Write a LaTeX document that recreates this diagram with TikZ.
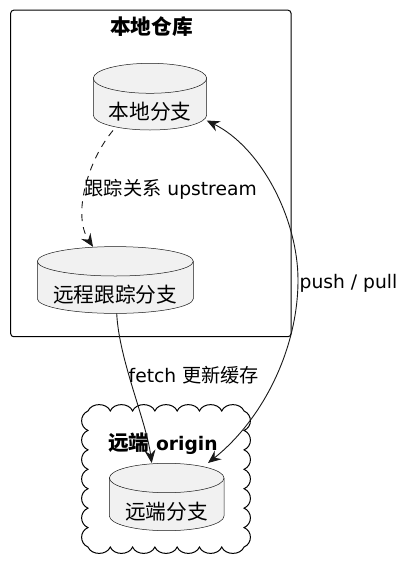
\documentclass[tikz,border=0pt]{standalone}
\usepackage{fontspec}
\setmainfont{DejaVu Sans}
\newfontfamily\cjk{Noto Sans CJK SC}
\usetikzlibrary{arrows.meta,calc}
\definecolor{dbfill}{HTML}{F1F1F1}
\definecolor{ink}{HTML}{181818}
\newcommand\dbcyl[6]{% cx, ytop, ybot, rx, ry, unused
  \path[fill=dbfill] (#1-#4,#2) -- (#1-#4,#3) arc[start angle=180,end angle=0,x radius=#4,y radius=#5]
     -- (#1+#4,#2) arc[start angle=0,end angle=-180,x radius=#4,y radius=#5] -- cycle;
  \draw[cylline] (#1-#4,#2) -- (#1-#4,#3) arc[start angle=180,end angle=0,x radius=#4,y radius=#5] -- (#1+#4,#2);
  \draw[cylline] (#1,#2) ellipse[x radius=#4,y radius=#5];
}
\begin{document}
\begin{tikzpicture}[x=1pt,y=-1pt,
  cylline/.style={draw=ink,line width=0.5pt},
  dblabel/.style={inner sep=0pt,font=\fontsize{20.7}{24}\selectfont\cjk},
  edgelabel/.style={inner sep=0pt,anchor=base west,font=\fontsize{18.7}{22}\selectfont},
  titlelabel/.style={inner sep=0pt,font=\fontsize{20.7}{24}\selectfont\bfseries},
  conn/.style={draw=ink,line width=0.9pt},
  tip/.style={-{Stealth[length=13pt,width=11pt,inset=4.5pt]}},
  tips/.style={{Stealth[length=13pt,width=11pt,inset=4.5pt]}-{Stealth[length=13pt,width=11pt,inset=4.5pt]}},
]
\useasboundingbox (0,0) rectangle (410,566);

% package 本地仓库
\draw[line width=1pt,rounded corners=3pt] (10.7,10.2) rectangle (291,336.7);
\node[titlelabel,anchor=base] (pkgtitle) at (151.5,34) {\cjk 本地仓库};

% cloud 远端 origin
\draw[line width=1pt,fill=white] (88,411)
  \foreach \i in {1,...,7} { .. controls +(3.5,-8.5) and +(-3.5,-8.5) .. ++(22.29,0) }
  \foreach \i in {1,...,7} { .. controls +(8.5,3.5) and +(8.5,-3.5) .. ++(0,19.43) }
  \foreach \i in {1,...,7} { .. controls +(-3.5,8.5) and +(3.5,8.5) .. ++(-22.29,0) }
  \foreach \i in {1,...,7} { .. controls +(-8.5,-3.5) and +(-8.5,3.5) .. ++(0,-19.43) }
  -- cycle;
\node[titlelabel,anchor=base west] (cloudtitle) at (108,450) {\cjk 远端\fontsize{18.7}{22}\selectfont\rmfamily\bfseries{} origin};

% cylinders
\dbcyl{150}{78.3}{115}{56.7}{15}{}
\node[dblabel,anchor=base] (A) at (150,119) {本地分支};
\coordinate (A-bot) at (113,130.5);
\coordinate (A-right) at (206.7,120.5);

\dbcyl{115.3}{261.3}{298.7}{78}{14.7}{}
\node[dblabel,anchor=base] (B) at (115.3,302) {远程跟踪分支};
\coordinate (B-top) at (93,246.8);
\coordinate (B-bot) at (116.7,313.3);

\dbcyl{166.7}{478}{516}{57.3}{14.7}{}
\node[dblabel,anchor=base] (C) at (166.7,519) {远端分支};
\coordinate (C-top) at (151.7,463);
\coordinate (C-right) at (208,463);

% connectors
\draw[conn,tip,dashed,dash pattern=on 7pt off 6pt] (A-bot) .. controls (88,160) and (72,215) .. (B-top);
\node[edgelabel] (upl) at (84.5,195) {{\fontsize{19.2}{22}\selectfont\cjk 跟踪关系} upstream};

\draw[conn,tip] (B-bot) .. controls (119,360) and (146,420) .. (C-top);
\node[edgelabel] (fetchl) at (128.5,382) {fetch {\fontsize{19.2}{22}\selectfont\cjk 更新缓存}};

\coordinate (pp-mid) at (298,280);
\draw[conn,tips]
  (A-right) .. controls (262,148) and (298,220) .. (pp-mid)
  .. controls (298,350) and (262,420) .. (C-right);
\node[edgelabel] (ppl) at (299.5,288) {push / pull};
\end{tikzpicture}
\end{document}
